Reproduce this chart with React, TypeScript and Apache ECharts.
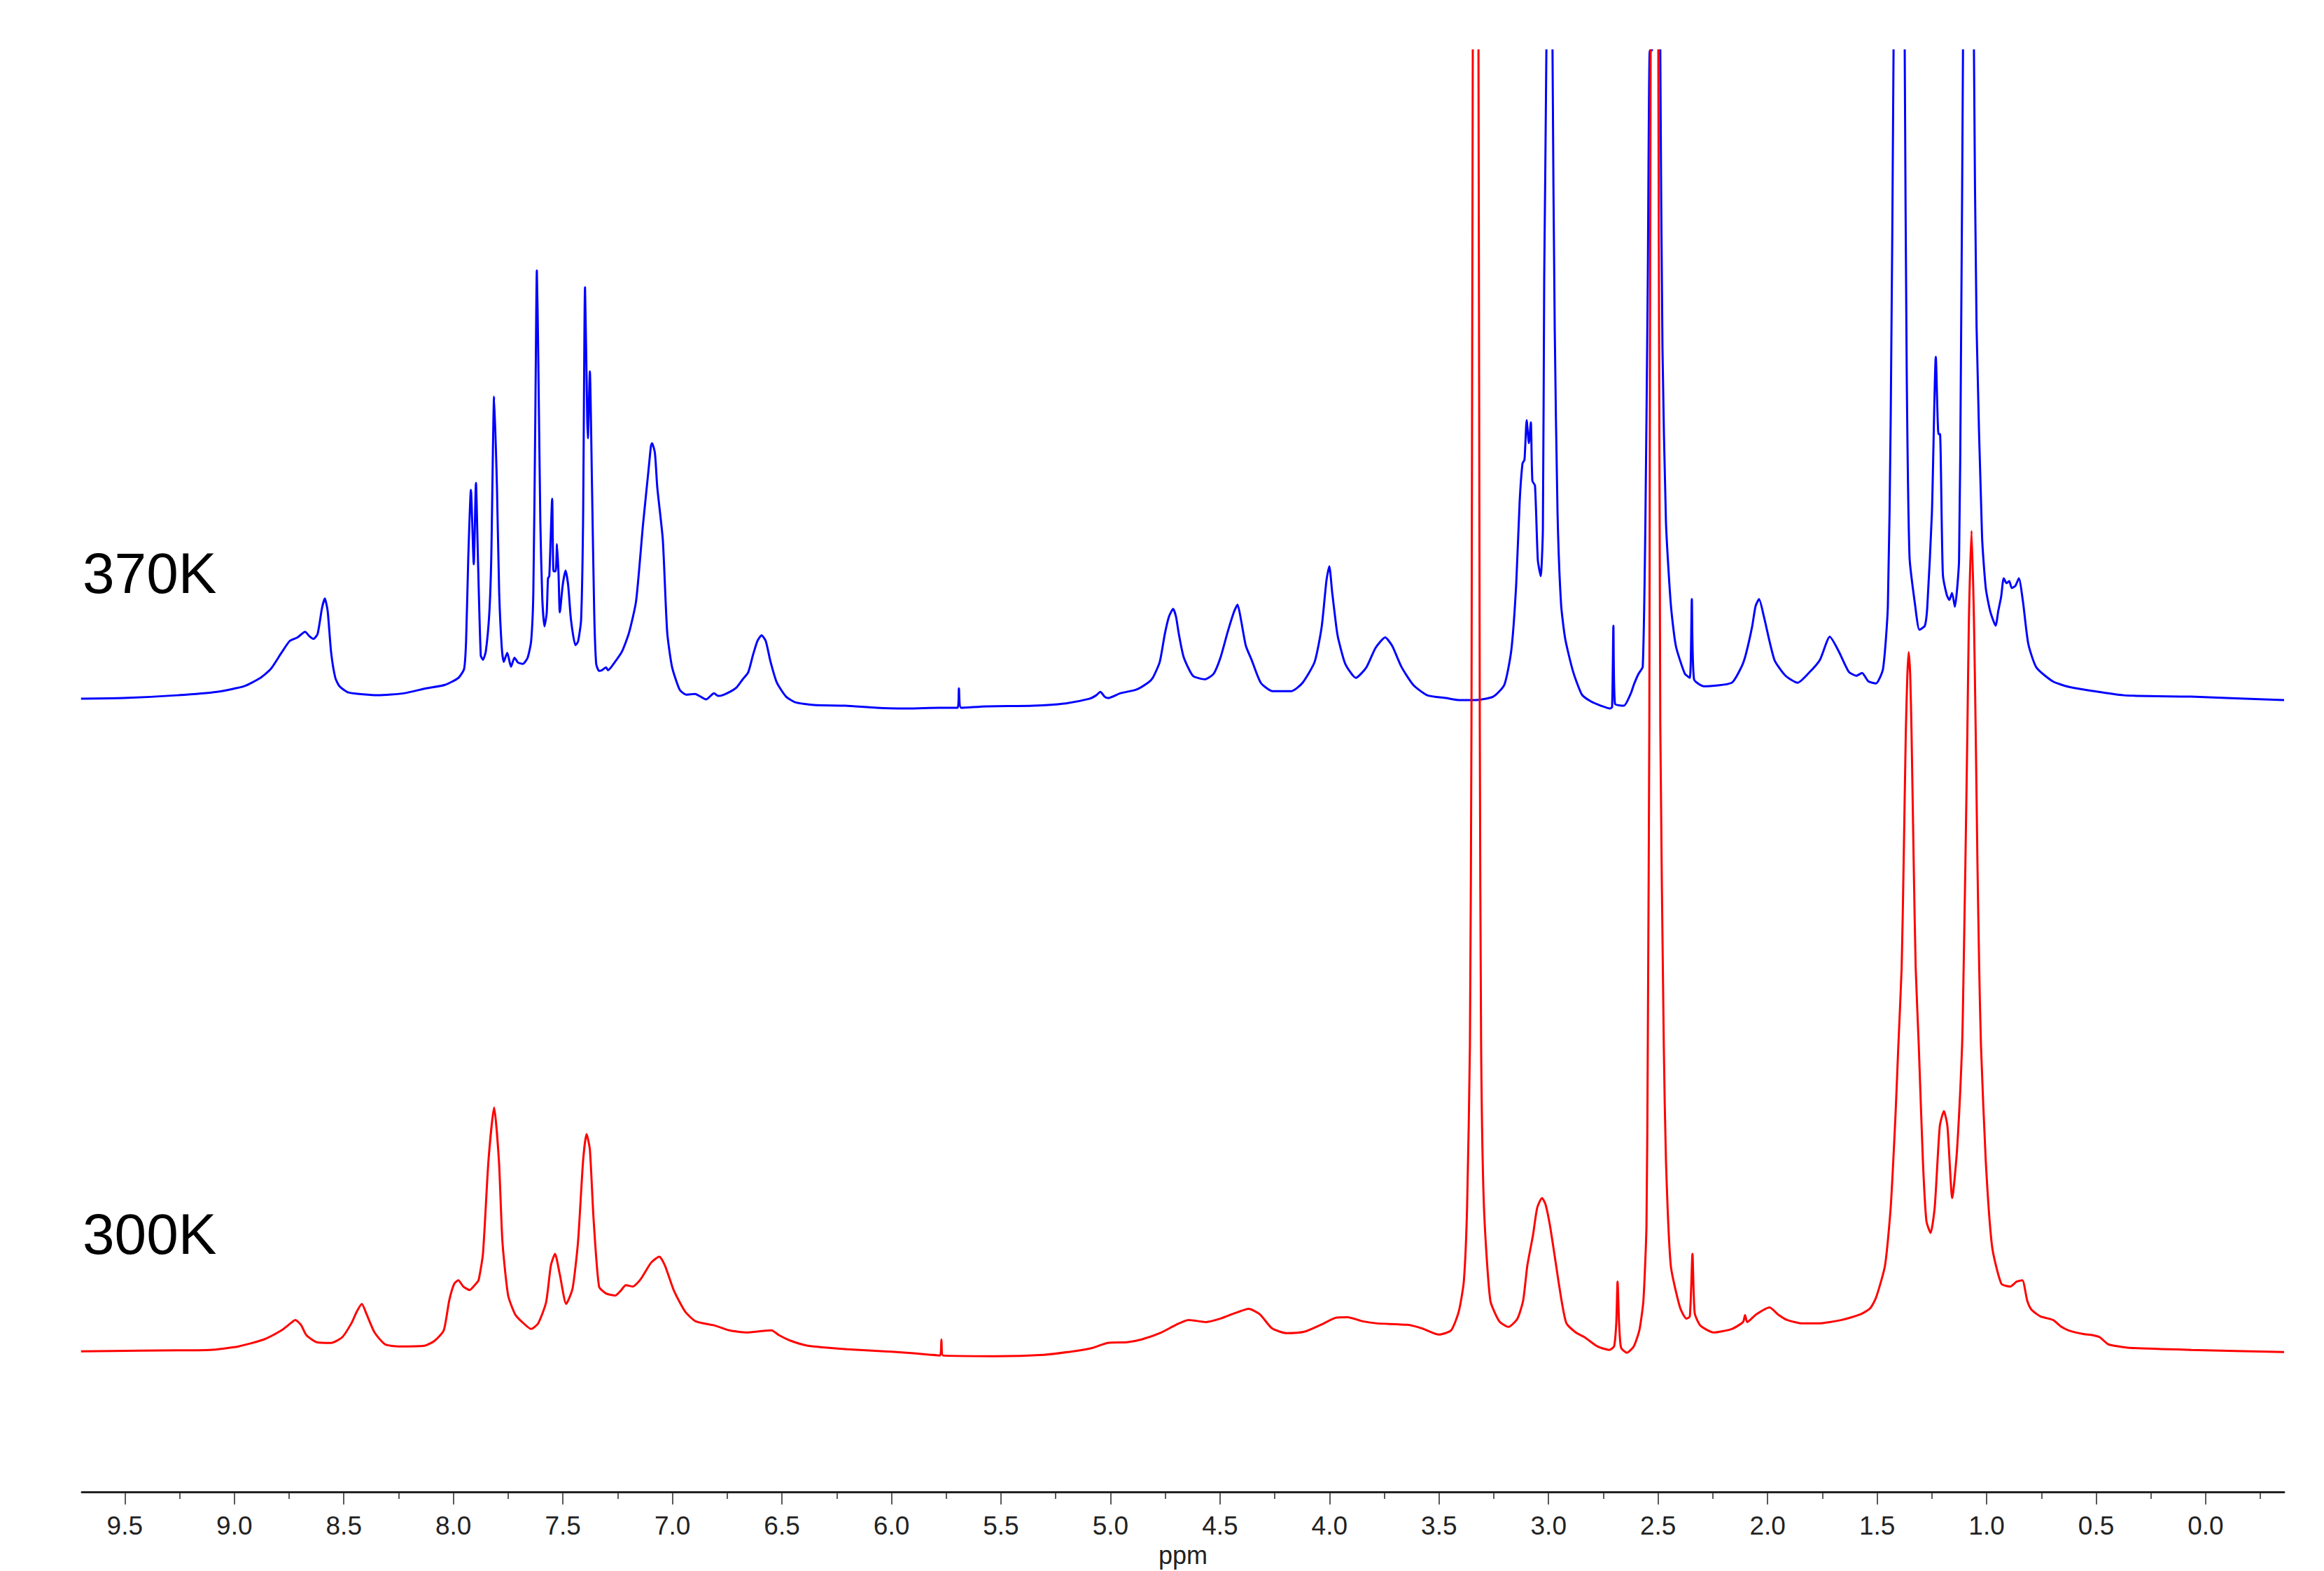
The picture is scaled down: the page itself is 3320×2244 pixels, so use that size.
import React, { useEffect, useRef } from "react";
import * as echarts from "echarts";

// ---- tick positions (ppm) ----
const majorTicks = [0, 0.5, 1, 1.5, 2, 2.5, 3, 3.5, 4, 4.5, 5, 5.5, 6, 6.5, 7, 7.5, 8, 8.5, 9, 9.5];
const minorTicks = [-0.25, 0.25, 0.75, 1.25, 1.75, 2.25, 2.75, 3.25, 3.75, 4.25, 4.75, 5.25, 5.75, 6.25, 6.75, 7.25, 7.75, 8.25, 8.75, 9.25];

// ---- spectrum labels ----
const spectrumLabels = ["370K", "300K"];

// ---- 370K spectrum (blue): chemical shift (ppm) and intensity above its baseline ----
const bluePpm = [
  9.700, 9.505, 9.262, 9.080, 8.955, 8.881, 8.833, 8.785, 8.747, 8.712, 8.677, 8.658, 8.639, 8.620, 8.600, 8.587, 8.574, 8.558, 8.539, 8.520,
  8.479, 8.345, 8.223, 8.124, 8.038, 7.977, 7.951, 7.942, 7.932, 7.920, 7.907, 7.897, 7.888, 7.875, 7.865, 7.852, 7.836, 7.827, 7.814, 7.801,
  7.791, 7.779, 7.770, 7.754, 7.737, 7.721, 7.705, 7.683, 7.661, 7.645, 7.635, 7.626, 7.619, 7.613, 7.603, 7.594, 7.584, 7.574, 7.568, 7.562,
  7.549, 7.543, 7.533, 7.527, 7.520, 7.514, 7.501, 7.488, 7.476, 7.463, 7.443, 7.431, 7.417, 7.408, 7.399, 7.389, 7.386, 7.377, 7.367, 7.357,
  7.348, 7.335, 7.322, 7.303, 7.294, 7.262, 7.230, 7.198, 7.166, 7.134, 7.108, 7.098, 7.093, 7.080, 7.069, 7.044, 7.024, 7.002, 6.967, 6.938,
  6.897, 6.846, 6.810, 6.791, 6.772, 6.737, 6.708, 6.679, 6.654, 6.632, 6.612, 6.593, 6.574, 6.552, 6.523, 6.481, 6.440, 6.354, 6.210, 6.066,
  5.925, 5.781, 5.698, 5.692, 5.682, 5.567, 5.353, 5.213, 5.097, 5.065, 5.046, 5.027, 5.011, 4.954, 4.883, 4.829, 4.807, 4.775, 4.752, 4.733,
  4.714, 4.701, 4.688, 4.666, 4.624, 4.570, 4.529, 4.497, 4.465, 4.436, 4.420, 4.404, 4.382, 4.356, 4.314, 4.260, 4.174, 4.123, 4.068, 4.036,
  4.014, 4.001, 3.988, 3.969, 3.960, 3.928, 3.880, 3.832, 3.790, 3.746, 3.714, 3.672, 3.618, 3.554, 3.468, 3.404, 3.340, 3.253, 3.202, 3.170,
  3.148, 3.132, 3.119, 3.110, 3.100, 3.090, 3.081, 3.074, 3.062, 3.049, 3.036, 3.026, 3.020, 3.010, 2.996, 2.982, 2.972, 2.959, 2.943, 2.924,
  2.889, 2.848, 2.806, 2.761, 2.720, 2.710, 2.704, 2.697, 2.656, 2.624, 2.611, 2.589, 2.570, 2.558, 2.547, 2.538, 2.528, 2.510, 2.490, 2.480,
  2.464, 2.442, 2.419, 2.378, 2.355, 2.346, 2.336, 2.291, 2.164, 2.119, 2.100, 2.071, 2.055, 2.039, 2.017, 1.969, 1.918, 1.863, 1.809, 1.761,
  1.716, 1.675, 1.630, 1.595, 1.569, 1.540, 1.505, 1.473, 1.451, 1.438, 1.425, 1.400, 1.374, 1.365, 1.352, 1.326, 1.307, 1.282, 1.271, 1.250,
  1.232, 1.220, 1.213, 1.200, 1.182, 1.170, 1.158, 1.145, 1.126, 1.117, 1.108, 1.083, 1.058, 1.046, 1.021, 1.004, 0.984, 0.959, 0.947, 0.934,
  0.922, 0.909, 0.897, 0.885, 0.869, 0.853, 0.834, 0.810, 0.773, 0.698, 0.623, 0.374, 0.067, -0.358,
];
const blueIntensity = [
  -2, -1, 3, 8, 16, 28, 41, 64, 81, 86, 94, 88, 84, 91, 128, 142, 124, 64, 28, 16,
  7, 3, 6, 13, 18, 28, 41, 81, 201, 298, 191, 308, 201, 60, 54, 66, 121, 201, 432, 301,
  151, 71, 51, 64, 44, 57, 50, 48, 57, 81, 151, 401, 613, 501, 251, 141, 102, 121, 171, 174,
  285, 181, 181, 220, 178, 122, 161, 182, 161, 111, 75, 80, 111, 251, 589, 401, 372, 468, 301, 121,
  48, 38, 39, 43, 39, 51, 66, 93, 138, 249, 330, 361, 365, 351, 301, 227, 94, 44, 11, 4,
  5, -3, 6, 2, 3, 8, 14, 26, 36, 61, 81, 89, 81, 51, 21, 1, -7, -11, -12, -15,
  -16, -15, -15, 13, -15, -13, -12, -9, -2, 3, 8, 1, -1, 6, 11, 21, 28, 51, 91, 116,
  127, 116, 91, 58, 31, 26, 34, 58, 94, 123, 133, 111, 74, 54, 21, 9, 9, 21, 51, 101,
  168, 188, 151, 101, 84, 48, 28, 43, 71, 86, 74, 44, 18, 3, -1, -4, -4, 1, 18, 68,
  161, 281, 336, 341, 398, 365, 395, 311, 304, 197, 174, 241, 601, 929, 2600, 929, 532, 264, 134, 84,
  38, 4, -6, -12, -16, -14, 103, -9, -12, 6, 18, 34, 44, 251, 601, 929, 929, 3000, 929, 501,
  251, 134, 74, 34, 28, 141, 26, 16, 21, 44, 61, 101, 131, 141, 116, 54, 31, 21, 36, 54,
  87, 66, 37, 31, 35, 23, 20, 41, 131, 401, 929, 3000, 929, 471, 201, 131, 97, 103, 130, 264,
  489, 378, 378, 177, 147, 140, 150, 130, 197, 501, 929, 3000, 929, 532, 231, 157, 124, 103, 124, 144,
  171, 164, 167, 157, 160, 171, 137, 77, 43, 23, 15, 3, 1, -4,
];

// ---- 300K spectrum (red): chemical shift (ppm) and intensity above its baseline ----
const redPpm = [
  9.700, 9.431, 9.112, 8.981, 8.865, 8.785, 8.744, 8.722, 8.696, 8.671, 8.623, 8.559, 8.508, 8.466, 8.441, 8.418, 8.396, 8.360, 8.312, 8.249,
  8.133, 8.086, 8.044, 8.019, 7.996, 7.977, 7.955, 7.926, 7.897, 7.885, 7.865, 7.840, 7.814, 7.792, 7.776, 7.750, 7.718, 7.686, 7.645, 7.613,
  7.577, 7.555, 7.536, 7.514, 7.485, 7.456, 7.431, 7.408, 7.392, 7.377, 7.360, 7.335, 7.303, 7.261, 7.236, 7.213, 7.181, 7.146, 7.098, 7.060,
  7.034, 6.993, 6.942, 6.894, 6.807, 6.740, 6.660, 6.593, 6.548, 6.513, 6.459, 6.382, 6.203, 5.976, 5.820, 5.778, 5.772, 5.765, 5.529, 5.305,
  5.171, 5.081, 5.014, 4.925, 4.858, 4.768, 4.701, 4.644, 4.564, 4.497, 4.430, 4.369, 4.318, 4.263, 4.196, 4.116, 4.040, 3.973, 3.918, 3.848,
  3.781, 3.646, 3.579, 3.500, 3.445, 3.410, 3.387, 3.372, 3.359, 3.352, 3.346, 3.333, 3.320, 3.314, 3.308, 3.295, 3.266, 3.225, 3.183, 3.142,
  3.116, 3.097, 3.071, 3.052, 3.030, 3.014, 2.995, 2.975, 2.955, 2.937, 2.918, 2.876, 2.835, 2.777, 2.723, 2.701, 2.691, 2.685, 2.678, 2.669, 2.643,
  2.611, 2.585, 2.567, 2.553, 2.547, 2.540, 2.534, 2.515, 2.499, 2.490, 2.474, 2.464, 2.442, 2.400, 2.371, 2.355, 2.343, 2.333, 2.307, 2.247,
  2.164, 2.112, 2.103, 2.093, 2.052, 1.991, 1.953, 1.911, 1.841, 1.771, 1.662, 1.576, 1.531, 1.505, 1.464, 1.438, 1.416, 1.403, 1.388, 1.379,
  1.369, 1.362, 1.356, 1.349, 1.343, 1.333, 1.324, 1.310, 1.291, 1.275, 1.256, 1.237, 1.214, 1.195, 1.179, 1.157, 1.135, 1.112, 1.105, 1.097,
  1.088, 1.081, 1.069, 1.058, 1.050, 1.042, 1.034, 1.026, 1.004, 0.975, 0.933, 0.892, 0.863, 0.837, 0.815, 0.796, 0.754, 0.697, 0.658, 0.626,
  0.562, 0.515, 0.483, 0.444, 0.348, 0.067, -0.358,
];
const redIntensity = [
  -1, 0, 1, 6, 16, 29, 39, 44, 37, 22, 12, 11, 19, 39, 56, 67, 52, 26, 9, 6,
  7, 14, 29, 72, 96, 101, 92, 87, 96, 101, 139, 272, 349, 272, 156, 79, 52, 41, 31, 39,
  69, 122, 139, 109, 67, 89, 156, 272, 311, 289, 189, 92, 82, 79, 86, 94, 92, 102, 126, 135,
  122, 86, 56, 42, 36, 29, 26, 28, 29, 22, 14, 7, 2, -2, -6, -7, 16, -7, -8, -6,
  -1, 4, 11, 12, 16, 26, 37, 44, 41, 46, 54, 60, 52, 32, 25, 27, 37, 47, 48, 42,
  39, 37, 32, 23, 29, 56, 99, 206, 439, 900, 1867, 3000, 1867, 900, 439, 206, 72, 42, 34, 46,
  72, 122, 166, 205, 219, 210, 182, 142, 100, 65, 39, 26, 19, 6, 1, 6, 39, 99, 39, 4, -3,
  6, 30, 72, 180, 439, 900, 1867, 3000, 1867, 900, 439, 272, 122, 62, 46, 49, 139, 54, 36, 26,
  31, 41, 51, 41, 52, 62, 52, 44, 39, 39, 44, 52, 61, 76, 122, 206, 339, 439, 550, 700,
  889, 970, 1003, 970, 889, 700, 550, 439, 272, 186, 169, 206, 322, 344, 322, 219, 289, 439, 550, 700,
  889, 1050, 1177, 1050, 889, 700, 550, 439, 272, 149, 96, 92, 99, 101, 72, 59, 49, 44, 34, 29,
  24, 22, 19, 9, 4, 1, -2,
];

// vertical placement of each trace (stacked display), in axis units
const BLUE_OFFSET = 1141;
const RED_OFFSET = 203;
const Y_MAX = 2070;

function buildSeries(ppm: number[], inten: number[], offset: number) {
  return ppm.map((p, i) => [p, inten[i] + offset]);
}

export default function App() {
  const ref = useRef<HTMLDivElement>(null);
  useEffect(() => {
    if (!ref.current) return;
    const chart = echarts.init(ref.current, null, { renderer: "svg" });
    const font = "Liberation Sans";
    const lineCommon = {
      type: "line",
      xAxisIndex: 0,
      showSymbol: false,
      symbol: "none",
      clip: true,
      smooth: 0.2,
      silent: true,
    };
    chart.setOption({
      animation: false,
      backgroundColor: "#ffffff",
      grid: { left: 117, right: 57, top: 72, bottom: 102, containLabel: false },
      xAxis: [
        {
          type: "value",
          min: -0.358,
          max: 9.696,
          inverse: true,
          position: "bottom",
          name: "ppm",
          nameLocation: "middle",
          nameGap: 68,
          nameTextStyle: { fontFamily: font, fontSize: 36, color: "#222" },
          axisLine: { show: true, onZero: false, lineStyle: { color: "#222", width: 3 } },
          axisTick: { show: true, customValues: majorTicks, length: 18, lineStyle: { color: "#222", width: 1.5 } },
          axisLabel: {
            show: true,
            customValues: majorTicks,
            margin: 30,
            fontFamily: font,
            fontSize: 37,
            color: "#222",
            formatter: (v: number) => v.toFixed(1),
          },
          splitLine: { show: false },
        },
        {
          type: "value",
          min: -0.358,
          max: 9.696,
          inverse: true,
          position: "bottom",
          axisLine: { show: false, onZero: false },
          axisTick: { show: true, customValues: minorTicks, length: 10, lineStyle: { color: "#222", width: 1.5 } },
          axisLabel: { show: false },
          splitLine: { show: false },
        },
      ],
      yAxis: { type: "value", min: 0, max: Y_MAX, show: false, splitLine: { show: false } },
      graphic: [
        {
          type: "text",
          x: 118,
          y: 818,
          style: { text: spectrumLabels[0], fontSize: 82, fontFamily: font, fill: "#000", align: "left", verticalAlign: "middle" },
        },
        {
          type: "text",
          x: 118,
          y: 1762,
          style: { text: spectrumLabels[1], fontSize: 82, fontFamily: font, fill: "#000", align: "left", verticalAlign: "middle" },
        },
      ],
      series: [
        {
          ...lineCommon,
          name: spectrumLabels[0],
          data: buildSeries(bluePpm, blueIntensity, BLUE_OFFSET),
          lineStyle: { color: "#0000ff", width: 3 },
          itemStyle: { color: "#0000ff" },
          z: 2,
        },
        {
          ...lineCommon,
          name: spectrumLabels[1],
          data: buildSeries(redPpm, redIntensity, RED_OFFSET),
          lineStyle: { color: "#ff0000", width: 3 },
          itemStyle: { color: "#ff0000" },
          z: 3,
        },
      ],
    });
    return () => chart.dispose();
  }, []);
  return (
    <div
      ref={ref}
      style={{ position: "fixed", left: 0, top: 0, width: 3320, height: 2244, background: "#fff" }}
    />
  );
}
